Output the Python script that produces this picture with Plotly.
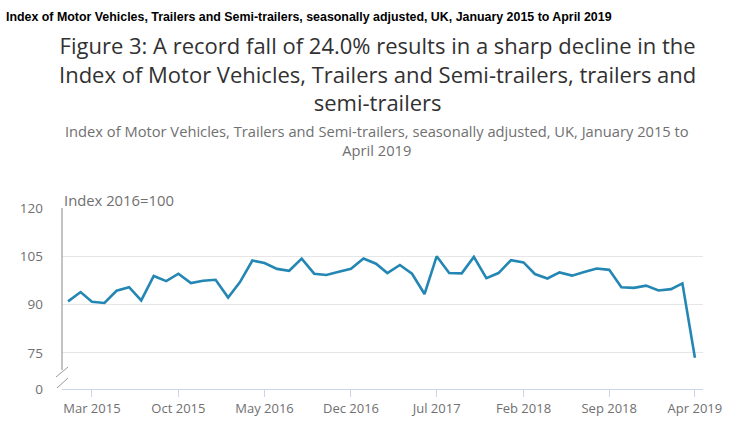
import pandas as pd
import plotly.graph_objects as go

months = pd.date_range("2015-01-01", "2019-04-01", freq="MS")
values = [91.0, 93.9, 90.9, 90.5, 94.3, 95.4, 91.3, 98.9, 97.3, 99.6, 96.7, 97.4,
          97.7, 92.2, 96.9, 103.7, 102.9, 101.1, 100.5, 104.3, 99.6, 99.2, 100.2, 101.1,
          104.3, 102.7, 99.8, 102.3, 99.6, 93.3, 105.0, 99.8, 99.7, 104.8, 98.2, 99.8,
          103.8, 103.1, 99.5, 98.1, 100.0, 99.0, 100.1, 101.2, 100.8, 95.4, 95.2, 95.9,
          94.4, 94.8, 96.6, 73.5]
x_tick_vals = ["2015-03-01", "2015-10-01", "2016-05-01", "2016-12-01",
               "2017-07-01", "2018-02-01", "2018-09-01", "2019-04-01"]
x_tick_text = ["Mar 2015", "Oct 2015", "May 2016", "Dec 2016",
               "Jul 2017", "Feb 2018", "Sep 2018", "Apr 2019"]
y_break = 63.8
y_tick_vals = [y_break, 75, 90, 105, 120]
y_tick_text = ["0", "75", "90", "105", "120"]

W, H = 750, 447
ML, MR, MT, MB = 62, 47, 208, 58
PW, PH = W - ML - MR, H - MT - MB


def px(xp):
    return (xp - ML) / PW


def py(yp):
    return (H - MB - yp) / PH


FONT = "Open Sans"
fig = go.Figure()
fig.add_trace(go.Scatter(x=months, y=values, mode="lines",
                         line=dict(color="#2386b3", width=2.6), hoverinfo="skip"))

annotations = [
    dict(text="<b>Index of Motor Vehicles, Trailers and Semi-trailers, seasonally adjusted, UK, January 2015 to April 2019</b>",
         x=px(4), y=py(17), xanchor="left", yanchor="middle",
         font=dict(family="Liberation Sans", size=12.4, color="#000000")),
    dict(text="Figure 3: A record fall of 24.0% results in a sharp decline in the<br>"
              "Index of Motor Vehicles, Trailers and Semi-trailers, trailers and<br>"
              "semi-trailers",
         x=px(377), y=py(73), xanchor="center", yanchor="middle", align="center",
         font=dict(family=FONT, size=22, color="#323132")),
    dict(text="Index of Motor Vehicles, Trailers and Semi-trailers, seasonally adjusted, UK, January 2015 to<br>"
              "April 2019",
         x=px(377), y=py(140.5), xanchor="center", yanchor="middle", align="center",
         font=dict(family=FONT, size=14.7, color="#707071")),
    dict(text="Index 2016=100",
         x=px(62), y=py(200), xanchor="left", yanchor="middle",
         font=dict(family=FONT, size=14.8, color="#707071")),
]
for a in annotations:
    a.update(xref="paper", yref="paper", showarrow=False)

shapes = [
    dict(type="line", xref="paper", yref="paper", x0=0, x1=0, y0=1, y1=py(370),
         line=dict(color="#9a9a9a", width=1.2)),
    dict(type="line", xref="paper", yref="paper", x0=px(56), x1=px(68), y0=py(377), y1=py(367),
         line=dict(color="#9a9a9a", width=1)),
    dict(type="line", xref="paper", yref="paper", x0=px(57), x1=px(68), y0=py(388), y1=py(378),
         line=dict(color="#9a9a9a", width=1)),
]

fig.update_layout(
    width=W, height=H,
    margin=dict(l=ML, r=MR, t=MT, b=MB, pad=0),
    paper_bgcolor="white", plot_bgcolor="white",
    showlegend=False,
    annotations=annotations, shapes=shapes,
    xaxis=dict(type="date", range=["2014-12-17", "2019-04-21"],
               tickvals=x_tick_vals, ticktext=x_tick_text,
               showgrid=False, zeroline=False,
               showline=True, linecolor="#ccd6eb", linewidth=1,
               ticks="outside", ticklen=7, tickcolor="#ccd6eb",
               tickfont=dict(family=FONT, size=13, color="#707071")),
    yaxis=dict(range=[y_break, 120], tickvals=y_tick_vals, ticktext=y_tick_text,
               showgrid=True, gridcolor="#e6e6e6", gridwidth=1,
               zeroline=False, showline=False, ticks="",
               ticklabelstandoff=18,
               tickfont=dict(family=FONT, size=13.5, color="#707071")),
)

fig.write_html("out.html")
